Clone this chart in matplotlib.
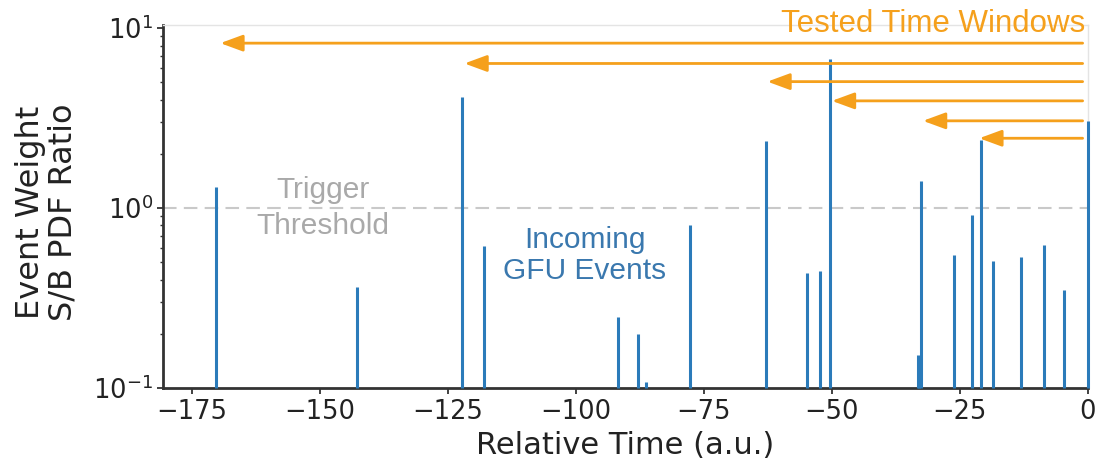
import matplotlib
matplotlib.use("Agg")
import matplotlib.pyplot as plt

# Event arrival times (relative) and their S/B PDF weight ratios
event_times = [-170.3, -142.8, -122.2, -118.0, -91.7, -87.9, -86.4, -77.8,
               -62.8, -54.8, -52.3, -50.3, -33.2, -32.9, -32.5, -26.2,
               -22.7, -20.8, -18.6, -13.0, -8.5, -4.6, 0.0]
event_weights = [1.31, 0.366, 4.16, 0.617, 0.247, 0.199, 0.108, 0.80,
                 2.35, 0.435, 0.445, 6.77, 0.152, 0.15, 1.42, 0.548,
                 0.915, 2.38, 0.505, 0.536, 0.625, 0.352, 3.04]

# Start of each tested time window (all windows end at the present)
window_starts = [-169.5, -121.8, -62.6, -50.0, -32.2, -21.2]
window_end = -1.0
window_levels = [0.950, 0.894, 0.844, 0.791, 0.736, 0.688]

trigger_threshold = 1.0
x_ticks = [-175, -150, -125, -100, -75, -50, -25, 0]

BLUE = "#2b7bba"
ORANGE = "#f5a01c"
GREY_TEXT = "#a9a9a9"
DARK = "#333333"

fig = plt.figure(figsize=(10.99, 4.66), dpi=100)
ax = fig.add_axes([163 / 1099, 78 / 466, 925 / 1099, 363 / 466])

ax.set_yscale("log")
ax.set_xlim(-180.7, 0.05)
ax.set_ylim(0.1, 10.4)

# threshold line
ax.axhline(trigger_threshold, color="#c9c9c9", lw=1.5, dashes=(6.5, 3.5), zorder=1)

# events as vertical sticks rising from the bottom of the axis
ax.vlines(event_times, 0.1, event_weights, colors=BLUE, linewidth=2.2,
          zorder=2.6, clip_on=False)

# tested time windows
xform = ax.get_xaxis_transform()
for start, lev in zip(window_starts, window_levels):
    ax.annotate("", xy=(start, lev), xytext=(window_end, lev),
                xycoords=xform, textcoords=xform,
                arrowprops=dict(arrowstyle="-|>,head_length=0.68,head_width=0.25",
                                mutation_scale=20, color=ORANGE, lw=2,
                                shrinkA=0, shrinkB=0),
                annotation_clip=False, zorder=3)

ax.text(0.997, 0.981, "Tested Time Windows", transform=ax.transAxes,
        ha="right", va="baseline", fontsize=22.5, color=ORANGE,
        family="Liberation Sans", clip_on=False)

ax.text(-149.5, 1.0, "Trigger\nThreshold", ha="center", va="center",
        fontsize=21.5, color=GREY_TEXT, family="Liberation Sans",
        linespacing=1.35, multialignment="center")

ax.text(-98.3, 0.545, "Incoming\nGFU Events", ha="center", va="center",
        fontsize=21.5, color="#3a78ae", family="Liberation Sans",
        linespacing=1.1, multialignment="center")

# axes styling
for side in ("left", "bottom"):
    ax.spines[side].set_color(DARK)
    ax.spines[side].set_linewidth(2)
for side in ("top", "right"):
    ax.spines[side].set_color("#e4e4e4")
    ax.spines[side].set_linewidth(1)

ax.set_xticks(x_ticks)
ax.tick_params(axis="both", which="major", direction="out", length=4, width=1.3,
               color=DARK, labelsize=18.5, labelcolor="#222222", pad=3)
ax.tick_params(axis="y", which="minor", direction="out", length=2.5, width=1,
               color=DARK)
ax.tick_params(axis="x", which="major", pad=4)

ax.set_xlabel("Relative Time (a.u.)", fontsize=22, color="#222222", labelpad=4)
fig.text(47 / 1099, 1 - 212 / 466, "Event Weight\nS/B PDF Ratio", rotation=90,
         ha="center", va="center", fontsize=23, color="#222222",
         linespacing=1.05, multialignment="center")

fig.savefig("out.png", dpi=100, facecolor="white")
